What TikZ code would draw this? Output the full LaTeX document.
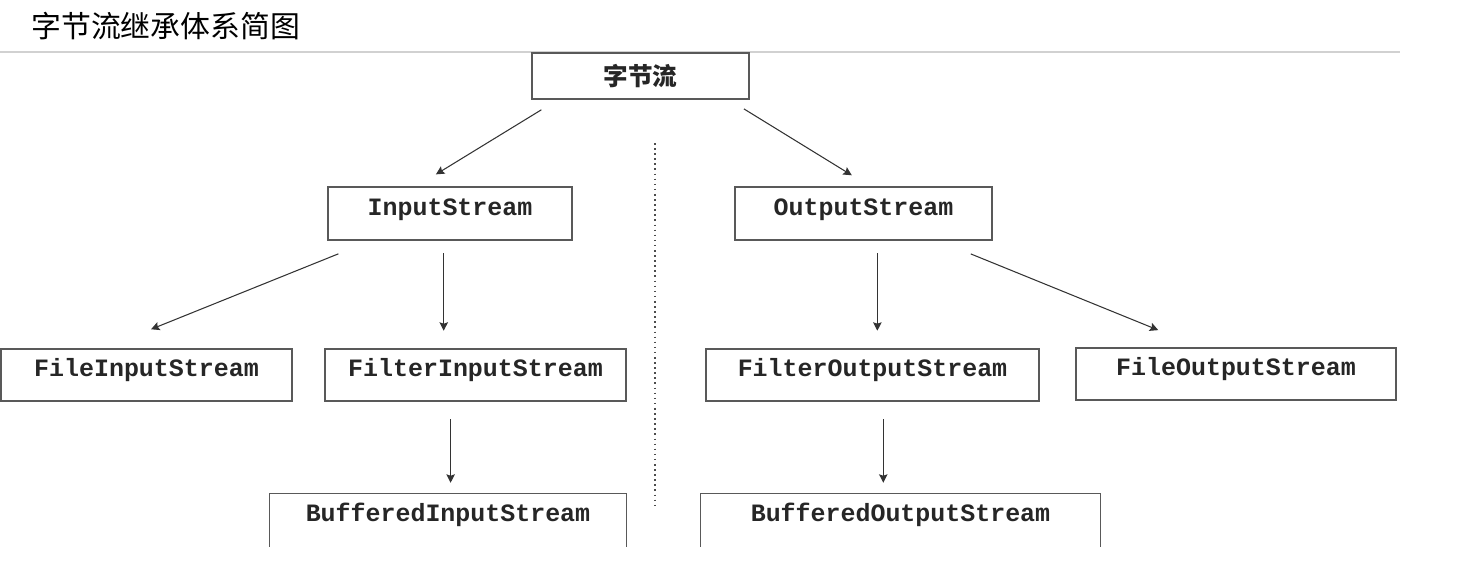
\documentclass[tikz,border=0pt]{standalone}
\usepackage{fontspec}
\setmonofont{Liberation Mono}
\newfontfamily\cjk{Noto Sans CJK SC}
\usetikzlibrary{arrows.meta}
\tikzset{cls/.style={rectangle,draw=black!65,line width=0.8pt,font=\ttfamily\bfseries\fontsize{14.2}{17}\selectfont,text=black!85,minimum height=1.04cm,text height=10pt,text depth=8pt,inner sep=0pt}}
\tikzset{arr/.style={->,draw=black!80,line width=0.6pt}}

\begin{document}
\begin{tikzpicture}[>={Stealth[length=4.8pt,width=4.8pt,inset=0.8pt]},x=0.02cm,y=-0.02cm]
        \useasboundingbox (0,0) rectangle (1467,575);
        \node[anchor=west,inner sep=0pt,font=\cjk\fontsize{17}{20}\selectfont] (title) at (31,26) {字节流继承体系简图};
        \draw[black!18,line width=1pt] (0,52) -- (1400,52);

        \node[cls,minimum width=4.34cm,minimum height=0.92cm,text height=,text depth=,font=\cjk\bfseries\fontsize{14}{16}\selectfont] (byte) at (640.5,76) {字节流};
        \node[cls,minimum width=4.88cm,minimum height=1.06cm] (in) at (450,213.5) {InputStream};
        \node[cls,minimum width=5.14cm,minimum height=1.06cm] (out) at (863.5,213.5) {OutputStream};
        \node[cls,minimum width=5.82cm] (finput) at (146.5,375) {FileInputStream};
        \node[cls,minimum width=6.02cm] (filterin) at (475.5,375) {FilterInputStream};
        \node[cls,minimum width=6.66cm] (filterout) at (872.5,375) {FilterOutputStream};
        \node[cls,minimum width=6.40cm] (fileout) at (1236,374) {FileOutputStream};
        \node[cls,draw=none,minimum width=7.12cm] (bufin) at (448,520) {BufferedInputStream};
        \node[cls,draw=none,minimum width=7.98cm] (bufout) at (900.5,520) {BufferedOutputStream};
        \draw[black!65,line width=0.8pt] (bufin.south west) -- (bufin.north west) -- (bufin.north east) -- (bufin.south east);
        \draw[black!65,line width=0.8pt] (bufout.south west) -- (bufout.north west) -- (bufout.north east) -- (bufout.south east);

        \draw[dotted,black!70,line width=0.9pt] (655,143) -- (655,508);

        \draw [arr,shorten <=11pt,shorten >=13pt] (byte.196) -- (in.141);
        \draw [arr,shorten <=10pt,shorten >=12pt] (byte.345) -- (out.77);
        \draw [arr,shorten <=20pt,shorten >=29pt] (in.199) -- (finput.148);
        \draw [arr,shorten <=7pt,shorten >=10pt] (in.257) -- (in.257 |- filterin.north);
        \draw [arr,shorten <=7pt,shorten >=10pt] (out.297) -- (out.297 |- filterout.north);
        \draw [arr,shorten <=20pt,shorten >=26pt] (out.340) -- (fileout.143);
        \draw [arr,shorten <=10pt,shorten >=6pt] (filterin.227) -- (filterin.227 |- bufin.north);
        \draw [arr,shorten <=10pt,shorten >=6pt] (filterout.292) -- (filterout.292 |- bufout.north);
    \end{tikzpicture}
\end{document}
